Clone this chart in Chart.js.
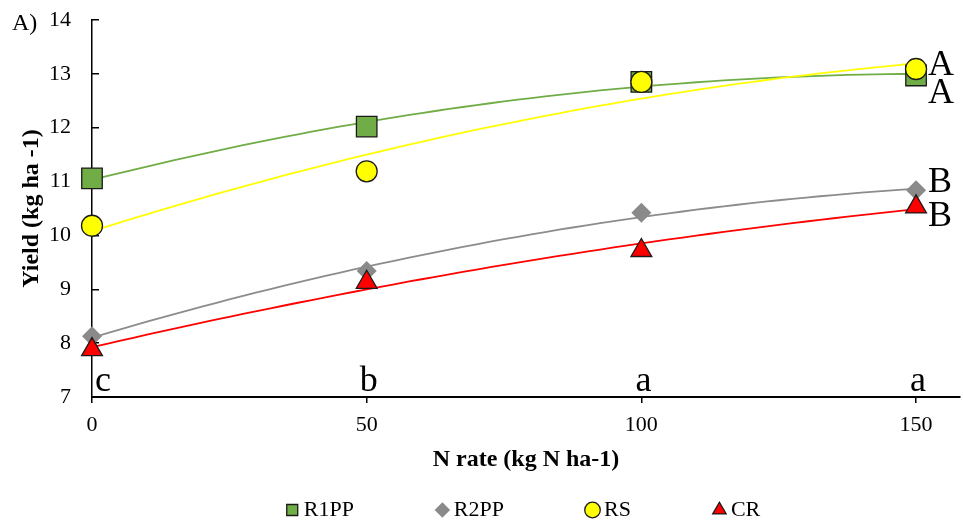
<!DOCTYPE html>
<html>
<head>
<meta charset="utf-8">
<title>Yield vs N rate</title>
<script src="https://cdn.jsdelivr.net/npm/chart.js@4.4.0/dist/chart.umd.min.js"></script>
<style>
  html, body { margin: 0; padding: 0; background: #fff; }
</style>
</head>
<body>
<canvas id="yieldChart" width="963" height="524"></canvas>
<script>
// Chart data
const nRates = [0, 50, 100, 150];
const r1ppYield = [11.06, 12.02, 12.85, 12.97];
const r2ppYield = [8.13, 9.34, 10.42, 10.84];
const rsYield = [10.18, 11.19, 12.85, 13.09];
const crYield = [7.88, 9.13, 9.72, 10.53];
const seriesNames = ['R1PP', 'R2PP', 'RS', 'CR'];
const seriesLetters = ['A', 'B', 'A', 'B'];   // letters next to the 150 points
const rateLetters = ['c', 'b', 'a', 'a'];     // letters above each N rate
const panelLabel = 'A)';

const serif = "'Liberation Serif', 'Times New Roman', serif";

// 2nd order polynomial trendline (least squares), like the spreadsheet trendline
function quadFit(xs, ys) {
    const s = [0, 0, 0, 0, 0], t = [0, 0, 0];
    xs.forEach(function(x, i) {
        for (let k = 0; k < 5; k++) s[k] += Math.pow(x, k);
        for (let k = 0; k < 3; k++) t[k] += ys[i] * Math.pow(x, k);
    });
    const m = [[s[0], s[1], s[2], t[0]], [s[1], s[2], s[3], t[1]], [s[2], s[3], s[4], t[2]]];
    for (let i = 0; i < 3; i++) {
        for (let j = i + 1; j < 3; j++) {
            const f = m[j][i] / m[i][i];
            for (let k = i; k < 4; k++) m[j][k] -= f * m[i][k];
        }
    }
    const c = [0, 0, 0];
    for (let i = 2; i >= 0; i--) {
        let v = m[i][3];
        for (let k = i + 1; k < 3; k++) v -= m[i][k] * c[k];
        c[i] = v / m[i][i];
    }
    return function(x) { return c[0] + c[1] * x + c[2] * x * x; };
}

function trendPoints(values) {
    const f = quadFit(nRates, values);
    const pts = [];
    const last = nRates[nRates.length - 1];
    for (let x = nRates[0]; x <= last; x += 2.5) pts.push({ x: x, y: f(x) });
    return pts;
}

const styles = {
    R1PP: { color: '#70AD47', line: '#70AD47', shape: 'rect', radius: 14.5, border: '#1a1a1a', bw: 1.3 },
    R2PP: { color: '#8A8A8A', line: '#8C8C8C', shape: 'rectRot', radius: 10, border: '#8A8A8A', bw: 0 },
    RS:   { color: '#FFFF00', line: '#FFFF00', shape: 'circle', radius: 10.5, border: '#1a1a1a', bw: 1.3 },
    CR:   { color: '#FF0000', line: '#FF0000', shape: 'triangle', radius: 12, border: '#1a1a1a', bw: 1.3 }
};
// CR on top, then RS, R2PP, R1PP (lower order is drawn later)
const pointOrder = { R1PP: 4, R2PP: 3, RS: 2, CR: 1 };
const lineOrder = { R1PP: 14, R2PP: 13, RS: 11, CR: 12 };

const allValues = [r1ppYield, r2ppYield, rsYield, crYield];

const pointSets = seriesNames.map(function(name, i) {
    const st = styles[name];
    return {
        label: name,
        data: nRates.map(function(x, j) { return { x: x, y: allValues[i][j] }; }),
        showLine: false,
        pointStyle: st.shape,
        pointRadius: st.radius,
        pointHoverRadius: st.radius,
        backgroundColor: st.color,
        borderColor: st.border,
        borderWidth: st.bw,
        order: pointOrder[name],
        clip: false
    };
});

const trendSets = seriesNames.map(function(name, i) {
    const st = styles[name];
    return {
        label: name + ' trend',
        data: trendPoints(allValues[i]),
        showLine: true,
        pointRadius: 0,
        borderColor: st.line,
        borderWidth: 1.8,
        fill: false,
        tension: 0,
        order: lineOrder[name],
        clip: false
    };
});

// letters and panel label
const letterPlugin = {
    id: 'letters',
    afterDraw: function(chart) {
        const ctx = chart.ctx;
        const xs = chart.scales.x, ys = chart.scales.y;
        ctx.save();
        ctx.fillStyle = '#000';
        ctx.textBaseline = 'alphabetic';

        // group letters to the right of the last point of each series
        const dy = { R1PP: 28, R2PP: 2, RS: 6, CR: 19 };
        ctx.font = '36px ' + serif;
        ctx.textAlign = 'left';
        const lastIdx = nRates.length - 1;
        seriesNames.forEach(function(name, i) {
            const px = xs.getPixelForValue(nRates[lastIdx]) + 12;
            const py = ys.getPixelForValue(allValues[i][lastIdx]) + dy[name];
            ctx.fillText(seriesLetters[i], px, py);
        });

        // N rate letters just above the x axis
        const base = ys.getPixelForValue(ys.min) - 6;
        rateLetters.forEach(function(letter, i) {
            const px = xs.getPixelForValue(nRates[i]);
            if (i === 0) {
                ctx.textAlign = 'left';
                ctx.fillText(letter, px + 3, base);
            } else {
                ctx.textAlign = 'center';
                ctx.fillText(letter, px + 2, base);
            }
        });

        ctx.font = '24px ' + serif;
        ctx.textAlign = 'left';
        ctx.fillText(panelLabel, 12, 30);
        ctx.restore();
    }
};

// legend items are spaced wide apart, keep its row near the bottom edge
const legendPlacer = {
    id: 'legendPlacer',
    afterLayout: function(chart) {
        const lg = chart.legend;
        const pad = lg.options.labels.padding;
        lg.top = 510 - 11 - pad;
        lg.left = 92;
    }
};

new Chart(document.getElementById('yieldChart'), {
    type: 'scatter',
    data: { datasets: pointSets.concat(trendSets) },
    options: {
        responsive: false,
        animation: false,
        layout: { autoPadding: false, padding: { top: 20, right: 3, bottom: 0, left: 0 } },
        scales: {
            x: {
                type: 'linear',
                min: 0,
                max: 158,
                afterBuildTicks: function(axis) {
                    axis.ticks = nRates.map(function(v) { return { value: v }; });
                },
                afterFit: function(axis) {
                    axis.height = 85;
                    axis.paddingLeft = 0;
                    axis.paddingRight = 0;
                },
                grid: { display: true, drawOnChartArea: false, drawTicks: true, tickLength: 6, color: '#000', lineWidth: 1.5 },
                border: { display: true, color: '#000', width: 2 },
                ticks: { color: '#000', padding: 9, font: { family: serif, size: 22 } },
                title: {
                    display: true,
                    text: 'N rate (kg N ha-1)',
                    color: '#000',
                    font: { family: serif, size: 24, weight: 'bold' },
                    padding: { top: 0, bottom: 8 }
                }
            },
            y: {
                min: 7,
                max: 14,
                afterFit: function(axis) {
                    axis.width = 92;
                    axis.paddingTop = 0;
                    axis.paddingBottom = 0;
                },
                grid: { display: true, drawOnChartArea: false, drawTicks: true, tickLength: -7, color: '#000', lineWidth: 1.5 },
                border: { display: true, color: '#000', width: 1.5 },
                ticks: { stepSize: 1, color: '#000', padding: 28, font: { family: serif, size: 22 } },
                title: {
                    display: true,
                    text: 'Yield (kg ha -1)',
                    color: '#000',
                    font: { family: serif, size: 24, weight: 'bold' },
                    padding: { top: 17, bottom: 0 }
                }
            }
        },
        plugins: {
            legend: {
                position: 'bottom',
                maxHeight: 42,
                labels: {
                    usePointStyle: true,
                    boxWidth: 1,
                    boxHeight: 11,
                    padding: 88,
                    color: '#000',
                    font: { family: serif, size: 22 },
                    filter: function(item) { return item.datasetIndex < seriesNames.length; },
                    sort: function(a, b) { return a.datasetIndex - b.datasetIndex; }
                }
            },
            tooltip: { enabled: false }
        }
    },
    plugins: [letterPlugin, legendPlacer]
});
</script>
</body>
</html>
